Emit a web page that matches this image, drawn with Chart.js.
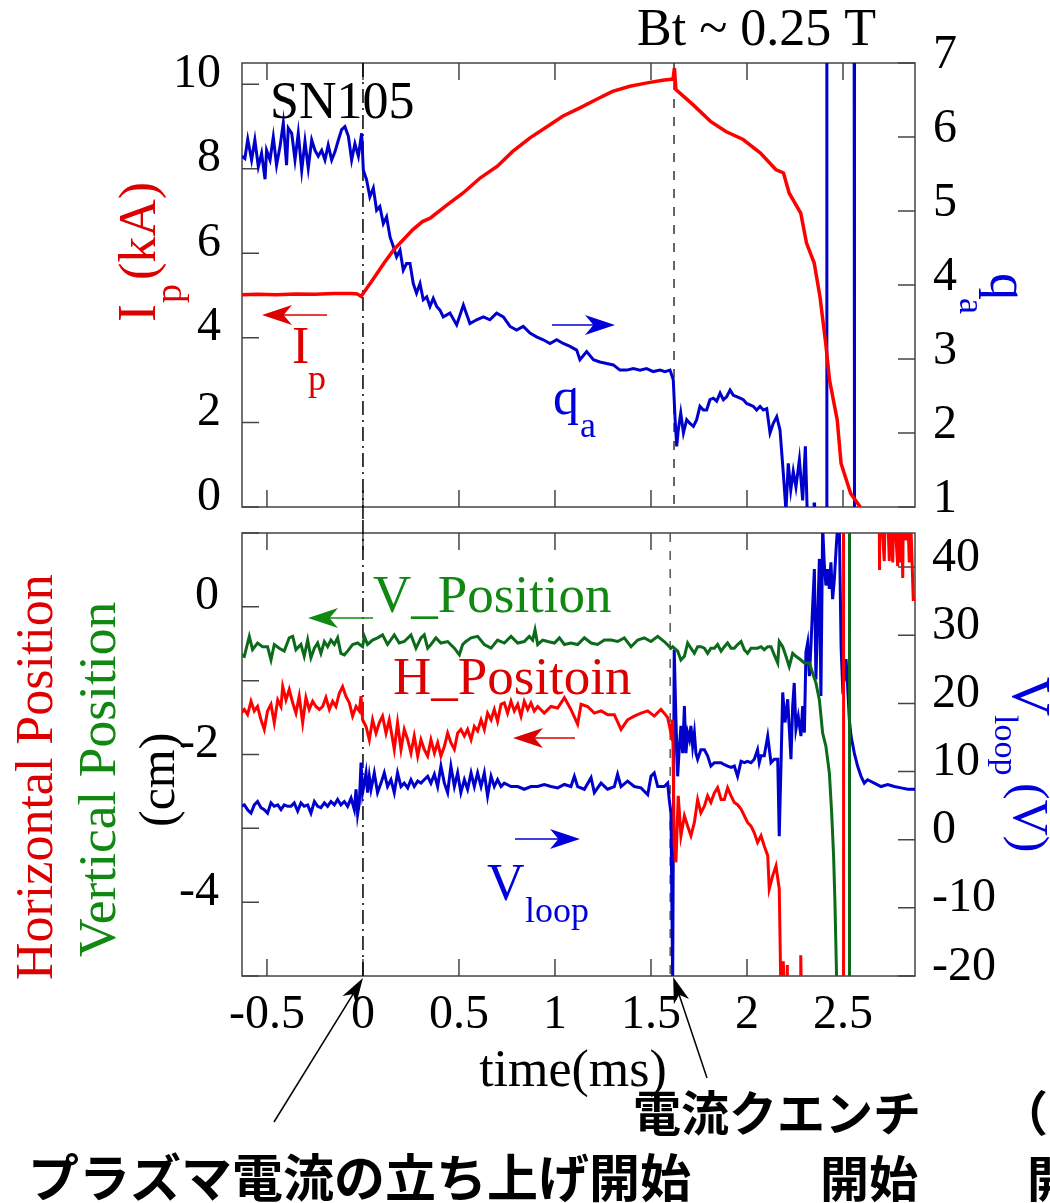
<!DOCTYPE html>
<html>
<head>
<meta charset="utf-8">
<script src="https://cdn.jsdelivr.net/npm/chart.js@4.4.1/dist/chart.umd.min.js"></script>
<style>
  body { margin: 0; background: #fff; }
  canvas { position: absolute; left: 0; }
  #chart-top { top: 0; }
  #chart-bottom { top: 500px; }
</style>
</head>
<body>
<canvas id="chart-top" width="1050" height="600"></canvas>
<canvas id="chart-bottom" width="1050" height="703"></canvas>
<script>
/*
  ==================================================
  ====================== DATOS ======================
  ==================================================
*/

// ejes
const timeTicks = [-0.5, 0, 0.5, 1, 1.5, 2, 2.5];
const ipTicks = [0, 2, 4, 6, 8, 10];
const qaTicks = [1, 2, 3, 4, 5, 6, 7];
const posTicks = [-5, -4, -3, -2, -1, 0, 1];
const posLabels = ['', '-4', '', '-2', '', '0', ''];
const vloopTicks = [-20, -10, 0, 10, 20, 30, 40];

// [time (ms), Ip (kA)]
const ipCurve = [
  [-0.63,5.02],[-0.55,5.03],[-0.45,5.02],[-0.35,5.04],[-0.25,5.03],[-0.15,5.05],[-0.06,5.05],[-0.03,5.04],
  [-0.01,4.98],[0.05,5.37],[0.11,5.77],[0.16,6.08],[0.21,6.32],[0.26,6.56],[0.31,6.75],[0.35,6.83],
  [0.44,7.15],[0.52,7.42],[0.61,7.78],[0.70,8.06],[0.78,8.41],[0.87,8.73],[0.96,9.00],[1.04,9.24],
  [1.13,9.44],[1.22,9.65],[1.30,9.83],[1.39,9.95],[1.48,10.03],[1.56,10.09],[1.615,10.12],[1.622,10.38],
  [1.63,9.87],[1.72,9.51],[1.81,9.12],[1.89,8.88],[1.98,8.69],[2.07,8.37],[2.15,7.98],[2.19,7.90],
  [2.22,7.42],[2.28,6.95],[2.31,6.24],[2.35,5.77],[2.38,4.98],[2.41,3.87],[2.43,3.00],[2.47,2.06],
  [2.49,1.03],[2.54,0.32],[2.59,0.00]
];

// [time (ms), q_a]  (null = corte de la traza)
const qaCurve = [
  [-0.63,5.74],[-0.615,5.71],[-0.60,5.97],[-0.58,5.69],[-0.563,5.96],[-0.545,5.60],[-0.528,5.78],[-0.51,5.43],
  [-0.502,5.82],[-0.484,5.69],[-0.467,6.00],[-0.45,5.62],[-0.432,5.87],[-0.415,6.19],[-0.398,5.62],[-0.389,6.12],
  [-0.371,6.05],[-0.354,5.69],[-0.337,6.05],[-0.319,5.55],[-0.302,5.94],[-0.285,5.58],[-0.267,5.96],[-0.25,5.82],
  [-0.233,5.74],[-0.215,5.82],[-0.198,5.69],[-0.181,5.89],[-0.163,5.69],[-0.146,5.80],[-0.128,5.96],[-0.111,6.10],
  [-0.094,6.14],[-0.076,6.01],[-0.059,5.69],[-0.042,5.91],[-0.024,5.74],[-0.007,6.05],[0.002,5.55],[0.019,5.42],
  [0.036,5.19],[0.054,5.31],[0.071,5.01],[0.088,5.06],[0.106,4.83],[0.123,4.92],[0.141,4.65],[0.158,4.52],
  [0.175,4.38],[0.193,4.47],[0.21,4.20],[0.227,4.29],[0.245,4.29],[0.262,4.02],[0.279,3.89],[0.297,4.02],
  [0.314,3.80],[0.332,3.84],[0.349,3.71],[0.366,3.82],[0.384,3.71],[0.401,3.66],[0.418,3.57],[0.453,3.62],
  [0.488,3.46],[0.523,3.73],[0.557,3.48],[0.592,3.53],[0.627,3.57],[0.661,3.53],[0.696,3.62],[0.731,3.57],
  [0.766,3.44],[0.80,3.39],[0.835,3.44],[0.87,3.35],[0.904,3.30],[0.939,3.26],[0.974,3.21],[1.009,3.26],
  [1.043,3.21],[1.078,3.17],[1.113,3.12],[1.13,2.99],[1.165,3.10],[1.20,2.99],[1.234,2.96],[1.269,2.94],
  [1.304,2.92],[1.338,2.85],[1.373,2.85],[1.408,2.87],[1.443,2.85],[1.477,2.87],[1.512,2.83],[1.547,2.85],
  [1.573,2.83],[1.599,2.85],[1.616,2.72],[1.625,2.22],[1.634,1.82],[1.642,2.04],[1.655,2.27],[1.669,2.00],
  [1.686,2.18],[1.703,2.13],[1.721,2.09],[1.738,2.18],[1.755,2.36],[1.773,2.31],[1.79,2.31],[1.807,2.45],
  [1.825,2.47],[1.842,2.43],[1.86,2.54],[1.877,2.45],[1.894,2.49],[1.912,2.58],[1.929,2.51],[1.946,2.49],
  [1.964,2.47],[1.981,2.45],[1.998,2.40],[2.016,2.38],[2.033,2.36],[2.05,2.31],[2.068,2.36],[2.085,2.31],
  [2.103,2.33],[2.12,2.00],[2.137,2.13],[2.155,2.22],[2.172,2.04],[2.189,1.46],[2.203,0.95],[2.215,1.59],
  [2.228,1.23],[2.241,1.48],[2.255,1.27],[2.273,1.64],[2.29,1.09],[2.304,1.82],[2.314,0.90],[2.33,null],
  [2.349,1.06],[2.352,0.90],[2.38,null],
  [2.414,0.5],[2.416,7.5],[2.48,null],
  [2.558,7.5],[2.560,0.5]
];

// [time (ms), posicion vertical (cm)]
const vPosCurve = [
  [-0.635,-0.65],[-0.618,-0.67],[-0.592,-0.40],[-0.575,-0.58],[-0.549,-0.49],[-0.523,-0.54],[-0.497,-0.54],[-0.479,-0.72],
  [-0.462,-0.51],[-0.436,-0.56],[-0.41,-0.60],[-0.384,-0.42],[-0.366,-0.40],[-0.349,-0.58],[-0.323,-0.51],[-0.306,-0.67],
  [-0.288,-0.45],[-0.271,-0.69],[-0.253,-0.56],[-0.236,-0.49],[-0.219,-0.63],[-0.201,-0.47],[-0.184,-0.54],[-0.167,-0.45],
  [-0.149,-0.51],[-0.132,-0.42],[-0.115,-0.63],[-0.097,-0.65],[-0.08,-0.60],[-0.054,-0.51],[-0.028,-0.49],[-0.002,-0.54],
  [0.007,-0.40],[0.024,-0.51],[0.05,-0.45],[0.076,-0.42],[0.102,-0.38],[0.128,-0.51],[0.163,-0.38],[0.189,-0.49],
  [0.215,-0.47],[0.25,-0.38],[0.276,-0.56],[0.302,-0.42],[0.319,-0.38],[0.337,-0.56],[0.354,-0.51],[0.38,-0.42],
  [0.406,-0.49],[0.441,-0.47],[0.476,-0.56],[0.502,-0.65],[0.519,-0.51],[0.536,-0.47],[0.563,-0.42],[0.597,-0.40],
  [0.632,-0.51],[0.667,-0.56],[0.701,-0.45],[0.736,-0.49],[0.771,-0.40],[0.806,-0.49],[0.84,-0.47],[0.866,-0.40],
  [0.884,-0.45],[0.896,-0.31],[0.91,-0.51],[0.936,-0.45],[0.962,-0.47],[0.997,-0.49],[1.023,-0.42],[1.049,-0.51],
  [1.083,-0.49],[1.118,-0.51],[1.153,-0.42],[1.188,-0.49],[1.222,-0.51],[1.257,-0.45],[1.292,-0.45],[1.326,-0.47],
  [1.361,-0.42],[1.396,-0.54],[1.431,-0.45],[1.465,-0.42],[1.5,-0.47],[1.535,-0.40],[1.569,-0.47],[1.604,-0.56],
  [1.613,-0.54],[1.639,-0.60],[1.656,-0.72],[1.674,-0.67],[1.691,-0.49],[1.708,-0.56],[1.726,-0.63],[1.743,-0.54],
  [1.76,-0.54],[1.778,-0.56],[1.795,-0.63],[1.812,-0.56],[1.83,-0.56],[1.847,-0.51],[1.865,-0.60],[1.882,-0.54],
  [1.899,-0.49],[1.917,-0.56],[1.934,-0.56],[1.951,-0.51],[1.969,-0.47],[1.986,-0.58],[2.003,-0.63],[2.021,-0.56],
  [2.038,-0.56],[2.055,-0.56],[2.073,-0.54],[2.09,-0.58],[2.108,-0.54],[2.125,-0.54],[2.142,-0.65],[2.16,-0.76],
  [2.168,-0.47],[2.186,-0.54],[2.203,-0.67],[2.22,-0.81],[2.238,-0.63],[2.255,-0.67],[2.281,-0.72],[2.299,-0.76],
  [2.325,-0.76],[2.342,-0.90],[2.359,-1.03],[2.377,-1.26],[2.394,-1.71],[2.411,-1.89],[2.429,-2.25],[2.441,-2.79],
  [2.451,-3.37],[2.458,-4.00],[2.469,-5.30],[2.50,null],
  [2.532,-5.5],[2.534,1.5]
];

// [time (ms), posicion horizontal (cm)]
const hPosCurve = [
  [-0.635,-1.44],[-0.618,-1.39],[-0.601,-1.46],[-0.583,-1.28],[-0.566,-1.41],[-0.549,-1.35],[-0.531,-1.53],[-0.514,-1.66],
  [-0.497,-1.41],[-0.479,-1.32],[-0.462,-1.57],[-0.444,-1.26],[-0.427,-1.35],[-0.418,-1.08],[-0.401,-1.26],[-0.384,-1.12],
  [-0.366,-1.30],[-0.349,-1.44],[-0.332,-1.21],[-0.314,-1.57],[-0.297,-1.23],[-0.28,-1.39],[-0.262,-1.28],[-0.245,-1.35],
  [-0.227,-1.39],[-0.21,-1.35],[-0.193,-1.23],[-0.175,-1.39],[-0.158,-1.28],[-0.141,-1.35],[-0.123,-1.17],[-0.106,-1.08],
  [-0.089,-1.21],[-0.071,-1.30],[-0.054,-1.48],[-0.036,-1.35],[-0.019,-1.41],[-0.01,-1.21],[-0.002,-1.53],[0.016,-1.62],
  [0.033,-1.80],[0.05,-1.53],[0.068,-1.71],[0.085,-1.57],[0.102,-1.48],[0.12,-1.71],[0.137,-1.53],[0.163,-1.93],
  [0.18,-1.57],[0.198,-1.93],[0.215,-1.66],[0.233,-1.80],[0.25,-1.98],[0.267,-1.75],[0.285,-2.02],[0.302,-1.80],
  [0.319,-1.93],[0.337,-2.02],[0.354,-1.80],[0.372,-1.98],[0.389,-1.84],[0.406,-2.02],[0.424,-1.89],[0.441,-1.71],
  [0.458,-1.84],[0.476,-1.93],[0.493,-1.71],[0.51,-1.66],[0.528,-1.75],[0.545,-1.66],[0.563,-1.80],[0.58,-1.62],
  [0.597,-1.68],[0.615,-1.53],[0.632,-1.66],[0.649,-1.44],[0.667,-1.53],[0.684,-1.39],[0.701,-1.55],[0.719,-1.32],
  [0.736,-1.30],[0.753,-1.44],[0.771,-1.28],[0.788,-1.41],[0.806,-1.32],[0.823,-1.48],[0.84,-1.28],[0.858,-1.39],
  [0.875,-1.30],[0.892,-1.41],[0.91,-1.35],[0.944,-1.44],[0.979,-1.35],[1.014,-1.37],[1.049,-1.23],[1.083,-1.39],
  [1.118,-1.59],[1.136,-1.32],[1.17,-1.35],[1.205,-1.44],[1.24,-1.41],[1.274,-1.46],[1.309,-1.46],[1.344,-1.66],
  [1.378,-1.53],[1.413,-1.48],[1.448,-1.44],[1.483,-1.41],[1.517,-1.48],[1.552,-1.39],[1.569,-1.44],[1.587,-1.50],
  [1.604,-1.71],[1.613,-1.53],[1.621,-3.24],[1.63,-3.46],[1.642,-2.56],[1.656,-3.10],[1.674,-2.83],[1.691,-2.97],
  [1.708,-3.10],[1.726,-2.92],[1.743,-2.61],[1.76,-2.79],[1.778,-2.70],[1.795,-2.56],[1.812,-2.65],[1.83,-2.52],
  [1.847,-2.45],[1.865,-2.61],[1.882,-2.61],[1.899,-2.45],[1.917,-2.56],[1.934,-2.65],[1.951,-2.68],[1.969,-2.74],
  [1.986,-2.83],[2.003,-2.92],[2.021,-2.97],[2.038,-3.06],[2.055,-3.19],[2.073,-3.10],[2.09,-3.24],[2.108,-3.37],
  [2.116,-3.82],[2.134,-3.64],[2.151,-3.51],[2.168,-3.82],[2.177,-5.30],[2.182,null],
  [2.188,-5.3],[2.189,-4.80],[2.195,-5.3],[2.20,null],
  [2.209,-5.3],[2.210,-4.85],[2.215,null],
  [2.279,-5.3],[2.280,-4.72],[2.284,-5.3],[2.29,null],
  [2.501,-5.5],[2.503,1.5],[2.60,null],
  [2.688,1.5],[2.689,0.50],[2.692,1.5],[2.70,1.2],[2.715,0.62],[2.72,1.3],[2.73,1.5],[2.741,0.62],
  [2.745,1.3],[2.759,0.60],[2.765,1.4],[2.785,0.55],[2.79,1.4],[2.80,0.60],[2.805,1.3],[2.811,0.39],
  [2.815,1.5],[2.828,0.90],[2.835,1.5],[2.845,0.60],[2.85,1.4],[2.866,0.10],[2.875,0.10]
];

// [time (ms), V_loop (V)]
const vloopCurve = [
  [-0.635,4.9],[-0.618,5.1],[-0.601,4.4],[-0.583,3.9],[-0.566,5.1],[-0.549,5.6],[-0.531,4.7],[-0.514,4.4],
  [-0.497,3.9],[-0.479,5.4],[-0.462,4.9],[-0.444,5.1],[-0.427,4.4],[-0.41,5.1],[-0.392,4.9],[-0.375,4.9],
  [-0.358,5.4],[-0.34,4.2],[-0.323,5.4],[-0.306,4.9],[-0.288,5.1],[-0.271,3.9],[-0.253,5.6],[-0.236,4.9],
  [-0.219,4.7],[-0.201,5.4],[-0.184,4.9],[-0.167,5.6],[-0.149,5.1],[-0.132,5.9],[-0.115,5.1],[-0.097,5.6],
  [-0.08,4.9],[-0.062,6.1],[-0.045,4.4],[-0.036,7.4],[-0.028,3.7],[-0.019,5.4],[-0.01,11.3],[-0.002,6.9],
  [0.007,8.3],[0.016,9.8],[0.024,6.9],[0.033,9.3],[0.042,7.4],[0.059,9.8],[0.076,6.9],[0.094,8.3],
  [0.111,9.8],[0.128,7.8],[0.146,8.8],[0.163,6.9],[0.18,9.8],[0.198,7.8],[0.215,8.3],[0.233,7.6],
  [0.25,8.8],[0.267,7.8],[0.285,8.6],[0.302,8.3],[0.319,8.8],[0.337,9.3],[0.354,8.3],[0.372,9.6],
  [0.389,7.8],[0.406,10.8],[0.424,8.3],[0.441,6.9],[0.458,10.8],[0.476,7.8],[0.493,9.8],[0.51,6.9],
  [0.528,8.8],[0.545,7.4],[0.563,9.8],[0.58,7.8],[0.597,9.8],[0.615,7.8],[0.632,9.8],[0.649,6.4],
  [0.667,9.3],[0.684,7.8],[0.701,8.8],[0.719,7.8],[0.736,8.3],[0.771,7.8],[0.806,7.8],[0.84,7.4],
  [0.875,7.8],[0.91,7.8],[0.944,8.1],[0.979,7.8],[1.014,7.6],[1.049,8.1],[1.083,7.8],[1.101,9.3],
  [1.118,7.8],[1.153,7.4],[1.188,9.1],[1.205,6.9],[1.24,8.3],[1.274,7.4],[1.309,7.8],[1.326,9.6],
  [1.344,7.8],[1.378,8.6],[1.413,7.8],[1.448,7.6],[1.483,6.6],[1.5,9.3],[1.517,9.8],[1.535,7.8],
  [1.569,7.8],[1.587,8.3],[1.595,5.9],[1.604,3.9],[1.613,-21.0],[1.621,27.9],[1.63,17.6],[1.639,9.3],
  [1.647,13.2],[1.656,16.7],[1.665,12.7],[1.674,19.6],[1.682,12.7],[1.691,15.7],[1.70,14.7],[1.708,16.7],
  [1.717,13.7],[1.726,15.7],[1.734,12.7],[1.743,11.8],[1.76,13.2],[1.778,13.2],[1.795,12.3],[1.812,10.8],
  [1.83,11.3],[1.847,11.3],[1.865,11.3],[1.882,11.0],[1.899,10.8],[1.917,10.6],[1.934,10.8],[1.951,9.3],
  [1.969,11.5],[1.986,11.3],[2.003,11.5],[2.021,11.3],[2.038,11.8],[2.055,13.2],[2.064,11.3],[2.073,12.3],
  [2.09,12.3],[2.108,15.2],[2.125,11.3],[2.142,11.8],[2.16,11.8],[2.168,0.5],[2.177,10.8],[2.186,21.6],
  [2.198,17.2],[2.212,20.6],[2.229,11.8],[2.238,19.6],[2.246,23.0],[2.255,16.2],[2.267,18.1],[2.281,15.2],
  [2.29,19.6],[2.299,15.7],[2.307,27.5],[2.316,28.9],[2.325,24.0],[2.333,28.4],[2.342,34.3],[2.351,39.7],
  [2.359,23.5],[2.368,32.4],[2.377,41.2],[2.385,21.1],[2.394,46.0],[2.403,40.2],[2.411,37.3],[2.42,39.7],
  [2.429,36.8],[2.437,40.7],[2.446,35.3],[2.455,38.2],[2.464,42.6],[2.472,46.0],[2.481,46.0],[2.49,28.4],
  [2.498,22.6],[2.507,23.5],[2.516,26.5],[2.524,22.6],[2.533,17.6],[2.542,15.2],[2.559,12.7],[2.576,10.8],
  [2.594,9.3],[2.611,8.3],[2.628,8.8],[2.663,8.3],[2.698,7.8],[2.733,8.1],[2.767,7.8],[2.802,7.6],
  [2.837,7.4],[2.875,7.4]
];

/*
  ==================================================
  ==================== UTILIDADES ====================
  ==================================================
*/

const SERIF = '"Liberation Serif", "DejaVu Serif", serif';
const JP = '"Noto Sans CJK JP", sans-serif';
const RED = '#ff0000', RED_TXT = '#dd0000';
const BLUE = '#0000cc', BLUE_TXT = '#0000dd';
const GREEN = '#0b6b1b', GREEN_TXT = '#118811';

const toXY = (rows) => rows.map(([x, y]) => ({ x, y }));

function text(ctx, str, x, y, size, color, opts = {}) {
  ctx.save();
  ctx.font = `${opts.weight || 'normal'} ${size}px ${opts.family || SERIF}`;
  ctx.fillStyle = color;
  ctx.textAlign = opts.align || 'left';
  ctx.textBaseline = opts.baseline || 'alphabetic';
  ctx.translate(x, y);
  if (opts.rot) ctx.rotate(opts.rot);
  ctx.fillText(str, 0, 0);
  ctx.restore();
}

function arrow(ctx, x1, y1, x2, y2, color, head = 30, half = 10, lw = 1.5) {
  let a = Math.atan2(y2 - y1, x2 - x1);
  ctx.save();
  ctx.strokeStyle = color;
  ctx.fillStyle = color;
  ctx.lineWidth = lw;
  ctx.beginPath();
  ctx.moveTo(x1, y1);
  ctx.lineTo(x2 - Math.cos(a) * head * 0.6, y2 - Math.sin(a) * head * 0.6);
  ctx.stroke();
  ctx.translate(x2, y2);
  ctx.rotate(a);
  ctx.beginPath();
  ctx.moveTo(0, 0);
  ctx.lineTo(-head, -half);
  ctx.lineTo(-head * 0.72, 0);
  ctx.lineTo(-head, half);
  ctx.closePath();
  ctx.fill();
  ctx.restore();
}

// marco + marcas hacia adentro
function frame(chart, leftId, rightId, leftTicks, rightTicks) {
  let { ctx, chartArea: a, scales } = chart;
  let L = 17;
  ctx.save();
  ctx.strokeStyle = '#444';
  ctx.lineWidth = 1.5;
  ctx.strokeRect(a.left, a.top, a.right - a.left, a.bottom - a.top);
  ctx.beginPath();
  timeTicks.forEach(v => {
    let px = scales.x.getPixelForValue(v);
    ctx.moveTo(px, a.bottom); ctx.lineTo(px, a.bottom - L);
    ctx.moveTo(px, a.top); ctx.lineTo(px, a.top + L);
  });
  leftTicks.forEach(v => {
    let py = scales[leftId].getPixelForValue(v);
    ctx.moveTo(a.left, py); ctx.lineTo(a.left + L, py);
  });
  rightTicks.forEach(v => {
    let py = scales[rightId].getPixelForValue(v);
    ctx.moveTo(a.right, py); ctx.lineTo(a.right - L, py);
  });
  ctx.stroke();
  ctx.restore();
}

function vline(chart, t, y1, y2, dash, color) {
  let { ctx, scales } = chart;
  let px = scales.x.getPixelForValue(t);
  ctx.save();
  ctx.strokeStyle = color;
  ctx.lineWidth = 1.5;
  ctx.setLineDash(dash);
  ctx.beginPath();
  ctx.moveTo(px, y1);
  ctx.lineTo(px, y2);
  ctx.stroke();
  ctx.restore();
}

const line = (data, axis, color, width) => ({
  data: toXY(data), yAxisID: axis, borderColor: color, borderWidth: width,
  showLine: true, pointRadius: 0, spanGaps: false, tension: 0
});

const tickFont = { family: SERIF, size: 48 };
const fixedTicks = (list) => (s) => { s.ticks = list.map(value => ({ value })); };
// ancho fijo del eje, sin relleno extra por las etiquetas
const fixedWidth = (w) => (s) => { s.width = w; s.paddingTop = 0; s.paddingBottom = 0; };

/*
  ==================================================
  ================= GRAFICO SUPERIOR =================
  ==================================================
*/

let ctxTop = document.getElementById('chart-top').getContext('2d');

let chartTop = new Chart(ctxTop, {
  type: 'scatter',
  data: {
    datasets: [
      line(ipCurve, 'yIp', RED, 3.5),
      line(qaCurve, 'yQa', BLUE, 3)
    ]
  },
  options: {
    responsive: false,
    animation: false,
    events: [],
    layout: { padding: { top: 63, bottom: 93, left: 0, right: 0 } },
    plugins: { legend: { display: false }, tooltip: { enabled: false } },
    scales: {
      x: { type: 'linear', min: -0.63, max: 2.875, display: false },
      yIp: {
        position: 'left', min: 0, max: 10.5,
        afterBuildTicks: fixedTicks(ipTicks),
        afterFit: fixedWidth(242),
        grid: { display: false }, border: { display: false },
        ticks: { font: tickFont, color: '#000', padding: 13, labelOffset: -10 }
      },
      yQa: {
        position: 'right', min: 1, max: 7,
        afterBuildTicks: fixedTicks(qaTicks),
        afterFit: fixedWidth(135),
        grid: { display: false }, border: { display: false },
        ticks: { font: tickFont, color: '#000', padding: 10, labelOffset: -8 }
      }
    }
  },
  plugins: [{
    id: 'decoTop',
    beforeDatasetsDraw(chart) {
      let a = chart.chartArea;
      frame(chart, 'yIp', 'yQa', ipTicks, qaTicks);
      vline(chart, 0, a.top, 520, [14, 5, 2, 5], '#000');
      vline(chart, 1.62, a.top, a.bottom, [9, 9], '#333');
    },
    afterDatasetsDraw(chart) {
      let ctx = chart.ctx;
      text(ctx, 'Bt ~ 0.25 T', 637, 45, 52, '#000');
      text(ctx, 'SN105', 270, 118, 52, '#000');

      arrow(ctx, 327, 315, 262, 315, RED_TXT, 30, 10);
      text(ctx, 'I', 292, 363, 52, RED_TXT);
      text(ctx, 'p', 308, 390, 36, RED_TXT);

      arrow(ctx, 552, 325, 615, 325, BLUE_TXT, 30, 10);
      text(ctx, 'q', 553, 414, 52, BLUE_TXT);
      text(ctx, 'a', 580, 437, 36, BLUE_TXT);

      // titulos de ejes
      text(ctx, 'I', 155, 322, 54, RED_TXT, { rot: -Math.PI / 2 });
      text(ctx, 'p', 181, 303, 38, RED_TXT, { rot: -Math.PI / 2 });
      text(ctx, '(kA)', 155, 280, 52, RED_TXT, { rot: -Math.PI / 2 });

      text(ctx, 'q', 991, 273, 54, BLUE_TXT, { rot: Math.PI / 2 });
      text(ctx, 'a', 960, 298, 36, BLUE_TXT, { rot: Math.PI / 2 });
    }
  }]
});

/*
  ==================================================
  ================= GRAFICO INFERIOR =================
  ==================================================
*/

const OFF = 500; // top del canvas inferior en la pagina

let ctxBottom = document.getElementById('chart-bottom').getContext('2d');

let chartBottom = new Chart(ctxBottom, {
  type: 'scatter',
  data: {
    datasets: [
      line(vPosCurve, 'yPos', GREEN, 3),
      line(hPosCurve, 'yPos', RED, 3),
      line(vloopCurve, 'yV', BLUE, 3)
    ]
  },
  options: {
    responsive: false,
    animation: false,
    events: [],
    layout: { padding: { top: 33, bottom: 0, left: 0, right: 0 } },
    plugins: { legend: { display: false }, tooltip: { enabled: false } },
    scales: {
      x: {
        type: 'linear', min: -0.63, max: 2.875,
        afterBuildTicks: fixedTicks(timeTicks),
        afterFit: s => { s.height = 227; s.paddingLeft = 0; s.paddingRight = 0; },
        grid: { display: false }, border: { display: false },
        ticks: { font: tickFont, color: '#000', padding: 3, maxRotation: 0, autoSkip: false,
                 callback: v => String(v) }
      },
      yPos: {
        position: 'left', min: -5, max: 1,
        afterBuildTicks: fixedTicks(posTicks),
        afterFit: fixedWidth(242),
        grid: { display: false }, border: { display: false },
        ticks: { font: tickFont, color: '#000', padding: 15, labelOffset: -10,
                 callback: (v, i) => posLabels[i] }
      },
      yV: {
        position: 'right', min: -20, max: 45,
        afterBuildTicks: fixedTicks(vloopTicks),
        afterFit: fixedWidth(135),
        grid: { display: false }, border: { display: false },
        ticks: { font: tickFont, color: '#000', padding: 9, labelOffset: -9 }
      }
    }
  },
  plugins: [{
    id: 'decoBottom',
    beforeDatasetsDraw(chart) {
      let a = chart.chartArea;
      frame(chart, 'yPos', 'yV', posTicks, vloopTicks);
      vline(chart, 0, 520 - OFF, a.bottom, [14, 5, 2, 5], '#000');
      vline(chart, 1.6, a.top, a.bottom, [9, 9], '#555');
    },
    afterDatasetsDraw(chart) {
      let ctx = chart.ctx;
      let x = chart.scales.x;
      let y = (g) => g - OFF;

      text(ctx, 'V_Position', 373, y(612), 53, GREEN_TXT);
      arrow(ctx, 373, y(618), 308, y(618), GREEN_TXT, 30, 10);

      text(ctx, 'H_Positoin', 393, y(694), 53, RED_TXT);
      arrow(ctx, 575, y(738), 513, y(738), RED_TXT, 30, 10);

      arrow(ctx, 515, y(839), 580, y(839), BLUE_TXT, 30, 10);
      text(ctx, 'V', 487, y(900), 52, BLUE_TXT);
      text(ctx, 'loop', 525, y(922), 36, BLUE_TXT);

      // titulos de ejes
      text(ctx, 'Horizontal Position', 52, y(980), 52, RED_TXT, { rot: -Math.PI / 2 });
      text(ctx, 'Vertical Position', 115, y(957), 53.5, GREEN_TXT, { rot: -Math.PI / 2 });
      text(ctx, '(cm)', 174, y(827), 50, '#000', { rot: -Math.PI / 2 });

      text(ctx, 'V', 1013, y(677), 54, BLUE_TXT, { rot: Math.PI / 2 });
      text(ctx, 'loop', 995, y(715), 34, BLUE_TXT, { rot: Math.PI / 2 });
      text(ctx, '(V)', 1014, y(783), 50, BLUE_TXT, { rot: Math.PI / 2 });

      text(ctx, 'time(ms)', 573, y(1072), 52, '#000', { align: 'center', baseline: 'middle' });

      // anotaciones en japones
      let x0 = x.getPixelForValue(0);
      let xq = x.getPixelForValue(1.6);
      arrow(ctx, 274, y(1122), x0, y(978), '#000', 26, 8);
      arrow(ctx, 707, y(1078), xq + 3, y(977), '#000', 26, 8);

      let jp = { family: JP, weight: 'bold', baseline: 'middle' };
      text(ctx, '電流クエンチ', 633, y(1113), 48, '#000', jp);
      text(ctx, '（', 1000, y(1113), 48, '#000', jp);
      text(ctx, 'プラズマ電流の立ち上げ開始', 28, y(1178), 51, '#000', jp);
      text(ctx, '開始', 820, y(1178), 49, '#000', jp);
      text(ctx, '開', 1027, y(1178), 49, '#000', jp);
    }
  }]
});
</script>
</body>
</html>
